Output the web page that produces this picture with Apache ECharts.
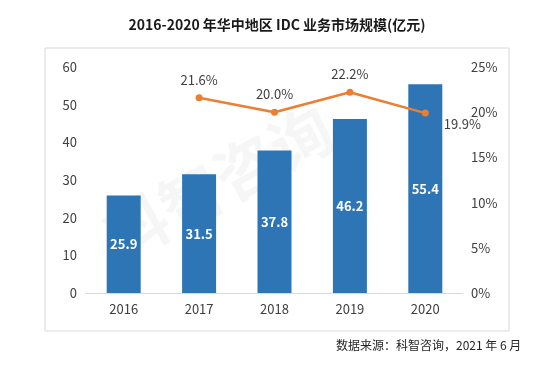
<!DOCTYPE html>
<html><head><meta charset="utf-8">
<script src="https://cdn.jsdelivr.net/npm/echarts@6/dist/echarts.min.js"></script>
<style>html,body{margin:0;padding:0;background:#fff}#c{width:554px;height:365px}</style>
</head><body><div id="c"></div>
<script>
var categories = ['2016','2017','2018','2019','2020'];
var marketSize = [25.9, 31.5, 37.8, 46.2, 55.4];
var growthRate = [null, 21.6, 20.0, 22.2, 19.9];
var leftTicks = [0,10,20,30,40,50,60];
var rightTicks = ['0%','5%','10%','15%','20%','25%'];

var font = '"Noto Sans CJK SC","Open Sans",sans-serif';
var chart = echarts.init(document.getElementById('c'));
var lineData = growthRate.map(function(v, i){
  if (v === null) return null;
  if (i === growthRate.length - 1) {
    return {value: v, label: {position: 'right', offset: [7, 11]}};
  }
  return {value: v};
});
chart.setOption({
  animation: false,
  backgroundColor: '#fff',
  textStyle: {fontFamily: font},
  title: {
    text: '2016-2020 年华中地区 IDC 业务市场规模(亿元)',
    left: 'center', top: 13,
    textStyle: {fontSize: 14, fontWeight: 'bold', color: '#1a1a1a', fontFamily: font}
  },
  graphic: [
    {type: 'rect', shape: {x: 45, y: 48, width: 464, height: 283},
     style: {fill: 'none', stroke: '#d9d9d9', lineWidth: 1}, z: -10},
    {type: 'text', left: 336, top: 339,
     style: {text: '数据来源：科智咨询，2021 年 6 月', fontSize: 12, fill: '#262626', fontFamily: font}},
    {type: 'text', x: 95, y: 215, rotation: 0.5,
     style: {text: '科智咨询', fontSize: 62, fontWeight: 'bold', fill: 'rgba(0,0,0,0.035)', fontFamily: font}, z: -5}
  ],
  grid: {left: 86, right: 91, top: 67, bottom: 72},
  xAxis: {
    type: 'category', data: categories,
    axisLine: {lineStyle: {color: '#d9d9d9', width: 1}},
    axisTick: {show: false},
    axisLabel: {color: '#404040', fontSize: 13, margin: 10, fontFamily: font}
  },
  yAxis: [
    {type: 'value', min: 0, max: 60, interval: 10,
     axisLine: {show: false}, axisTick: {show: false}, splitLine: {show: false},
     axisLabel: {color: '#404040', fontSize: 13, margin: 9, fontFamily: font,
       formatter: function(v){ return leftTicks.indexOf(v) >= 0 ? String(v) : ''; }}},
    {type: 'value', min: 0, max: 25, interval: 5,
     axisLine: {show: false}, axisTick: {show: false}, splitLine: {show: false},
     axisLabel: {color: '#404040', fontSize: 13, margin: 8, fontFamily: font,
       formatter: function(v){ return rightTicks[Math.round(v/5)]; }}}
  ],
  series: [
    {type: 'bar', data: marketSize, barWidth: 34, yAxisIndex: 0,
     itemStyle: {color: '#2E75B6'},
     label: {show: true, position: 'inside', color: '#fff', fontWeight: 'bold', fontSize: 13, fontFamily: font,
       formatter: function(p){ return p.value.toFixed(1); }}},
    {type: 'line', data: lineData, yAxisIndex: 1,
     connectNulls: false,
     lineStyle: {color: '#ED7D31', width: 2.5},
     itemStyle: {color: '#ED7D31'},
     symbol: 'circle', symbolSize: 7,
     label: {show: true, position: 'top', distance: 8, color: '#404040', fontSize: 13, fontFamily: font,
       formatter: function(p){ return p.value.toFixed(1) + '%'; }}}
  ]
});
</script></body></html>
